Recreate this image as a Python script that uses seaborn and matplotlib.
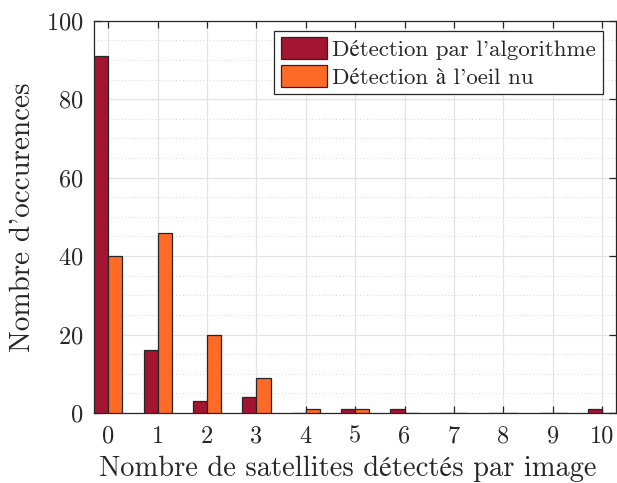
import matplotlib
matplotlib.use("Agg")
import matplotlib.pyplot as plt
import seaborn as sns
import pandas as pd
from matplotlib.ticker import MultipleLocator

# Data
categories = [str(i) for i in range(11)]
algo_counts = [91, 16, 3, 4, 0, 1, 1, 0, 0, 0, 1]
eye_counts = [40, 46, 20, 9, 1, 1, 0, 0, 0, 0, 0]
series_names = ["Détection par l'algorithme", "Détection à l'oeil nu"]
colors = ["#A2142F", "#FF6A26"]

df = pd.DataFrame({
    "n": categories * 2,
    "count": algo_counts + eye_counts,
    "type": [series_names[0]] * len(categories) + [series_names[1]] * len(categories),
})

sns.set_theme(style="white")
plt.rcParams["font.family"] = ["cmr10", "STIXGeneral", "DejaVu Serif"]
plt.rcParams["axes.formatter.use_mathtext"] = True
plt.rcParams["mathtext.fontset"] = "cm"

fig = plt.figure(figsize=(6.17, 4.83), dpi=100)
ax = fig.add_axes([0.1528, 0.145, 0.9985 - 0.1528, 0.957 - 0.145])

sns.barplot(data=df, x="n", y="count", hue="type", order=categories,
            hue_order=series_names, palette=colors, saturation=1,
            width=0.5714, gap=0, dodge=True, edgecolor="#262626",
            linewidth=0.9, ax=ax, errorbar=None, zorder=3)

ax.set_xlim(-0.2857, 10.2857)
ax.set_ylim(0, 100)
ax.yaxis.set_major_locator(MultipleLocator(20))
ax.yaxis.set_minor_locator(MultipleLocator(5))

ax.grid(True, which="major", color="#e3e3e3", linewidth=0.9, zorder=0)
ax.grid(True, which="minor", axis="y", color="#d6d6d6", linewidth=0.7,
        linestyle=(0, (1, 2.5)), zorder=0)
ax.set_axisbelow(True)

for s in ax.spines.values():
    s.set_visible(True)
    s.set_color("#262626")
    s.set_linewidth(0.9)

ax.tick_params(which="major", direction="in", length=5, width=0.9,
               color="#262626", top=True, right=True, bottom=True, left=True,
               labelsize=17.5, pad=9, labelcolor="#262626")
ax.tick_params(axis="y", pad=8)
ax.tick_params(which="minor", length=0)

ax.set_xlabel("Nombre de satellites détectés par image", fontsize=20.5,
              color="#262626")
ax.xaxis.set_label_coords(0.485, -0.11)
ax.set_ylabel("Nombre d'occurences", fontsize=21, color="#262626", labelpad=7)

leg = ax.legend(loc="upper right", bbox_to_anchor=(0.975, 0.975), fontsize=16.5,
                frameon=True, fancybox=False, edgecolor="#262626",
                framealpha=1, borderpad=0.3, handlelength=2.0,
                handleheight=1.1, handletextpad=0.25, labelspacing=0.2,
                borderaxespad=0)
leg.get_frame().set_linewidth(0.9)
for t in leg.get_texts():
    t.set_color("#262626")

fig.savefig("out.png", dpi=100, facecolor="white")
